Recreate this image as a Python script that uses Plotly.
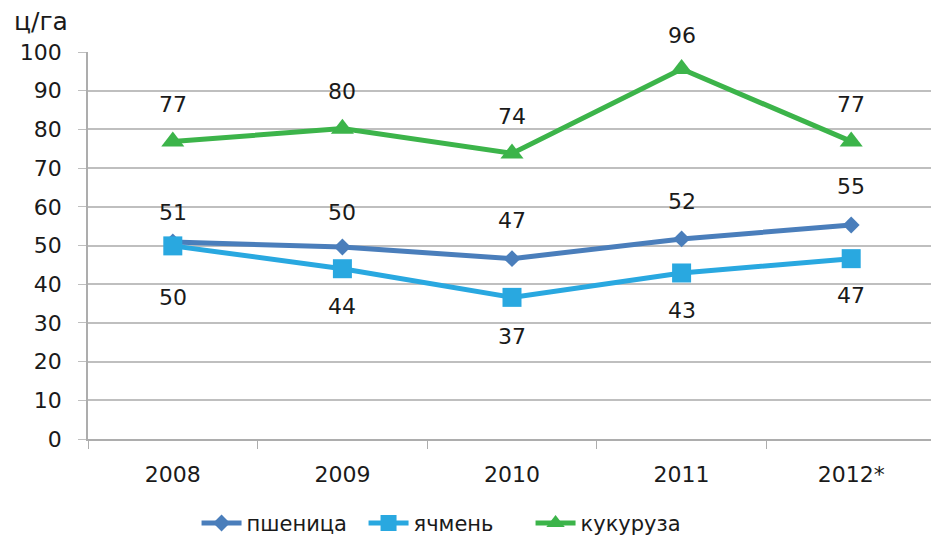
import plotly.graph_objects as go

years = ["2008", "2009", "2010", "2011", "2012*"]
wheat = [50.9, 49.6, 46.6, 51.7, 55.3]
barley = [49.9, 44.0, 36.6, 42.9, 46.6]
corn = [76.9, 80.2, 73.8, 95.6, 76.9]
y_ticks = list(range(0, 101, 10))

FONT = "DejaVu Sans"
TEXT = "#1a1a1a"

series = [
    ("пшеница", wheat, "#4A7EBB", "diamond", 13, [30, 35, 38, 37, 38]),
    ("ячмень", barley, "#29A8E0", "square", 19, [-52, -38, -39, -38, -37]),
    ("кукуруза", corn, "#3CB44A", "triangle-up", 20, [37, 37, 37, 34, 37]),
]

fig = go.Figure()
annotations = []
for name, vals, color, symbol, size, shifts in series:
    fig.add_trace(go.Scatter(
        x=years, y=vals, name=name, mode="lines+markers",
        line=dict(color=color, width=5),
        marker=dict(symbol=symbol, size=size, color=color),
    ))
    # подписи значений (x по индексу категории)
    for i, (v, s) in enumerate(zip(vals, shifts)):
        annotations.append(dict(
            x=i, y=v, text=str(int(round(v))), showarrow=False,
            yshift=s, font=dict(family=FONT, size=22, color=TEXT),
        ))

annotations.append(dict(
    x=0, y=1.0, xref="paper", yref="paper", xanchor="left", yanchor="middle",
    xshift=-76, yshift=31, text="ц/га", showarrow=False,
    font=dict(family=FONT, size=25, color=TEXT),
))

# страница имеет отступ body 8px, поэтому размеры уменьшены на 8
fig.update_layout(
    width=931, height=539,
    margin=dict(l=80, r=3, t=44, b=106),
    paper_bgcolor="white", plot_bgcolor="white",
    font=dict(family=FONT, size=22, color=TEXT),
    showlegend=True,
    legend=dict(orientation="h", x=0.128, xanchor="left", y=-0.218, yanchor="middle",
                font=dict(family=FONT, size=21, color=TEXT), itemwidth=40,
                entrywidth=112, entrywidthmode="pixels", tracegroupgap=0),
    annotations=annotations,
    xaxis=dict(
        type="category", range=[-0.5, len(years) - 0.5],
        tickson="boundaries", ticks="outside", ticklen=8, tickcolor="#ADADAD",
        showline=True, linecolor="#ADADAD", linewidth=1.5,
        showgrid=False, zeroline=False, ticklabelstandoff=15,
    ),
    yaxis=dict(
        range=[0, 100], tickvals=y_ticks,
        ticks="outside", ticklen=8, tickcolor="#BFBFBF",
        showline=True, linecolor="#ADADAD", linewidth=1.5,
        showgrid=True, gridcolor="#BFBFBF", gridwidth=1.5,
        zeroline=False, ticklabelstandoff=12,
    ),
)

fig.write_html("out.html")
